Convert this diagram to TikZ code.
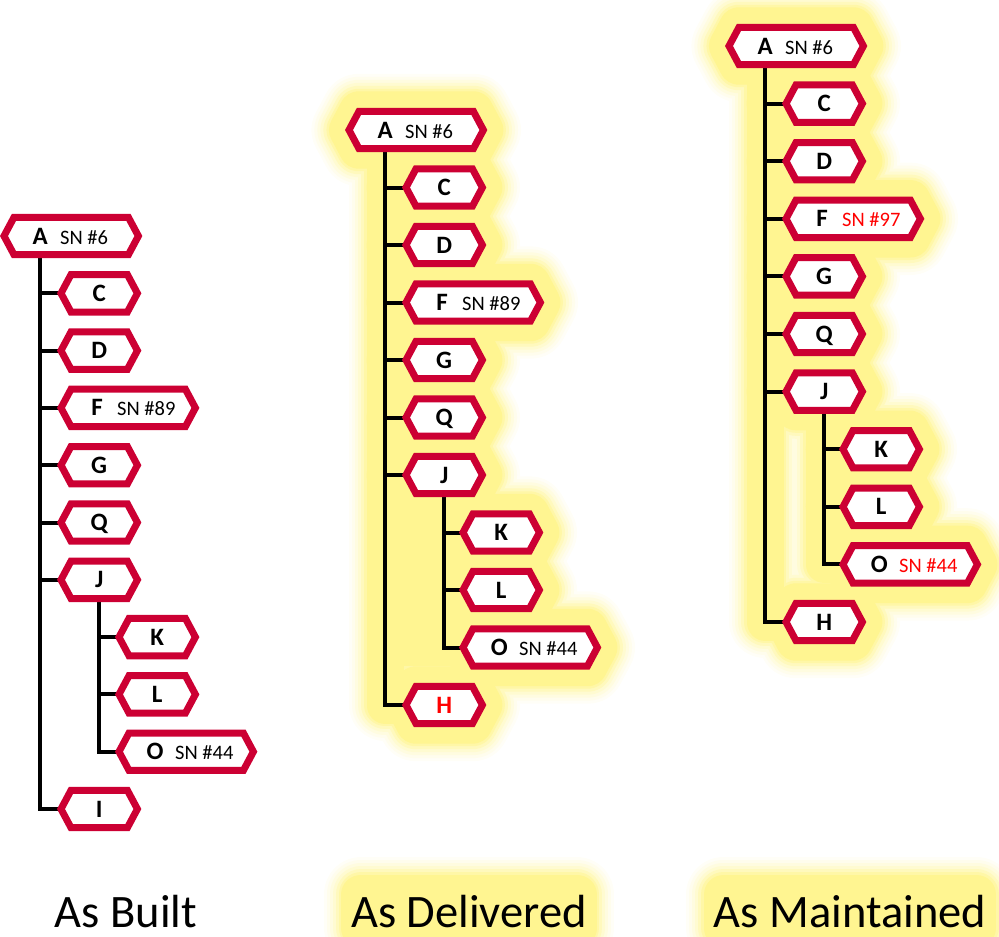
\documentclass[tikz,border=0pt]{standalone}
\usepackage{fontspec}
\setmainfont{Carlito}
\usetikzlibrary{calc}
\definecolor{hexred}{RGB}{204,0,51}
\definecolor{glowy}{RGB}{255,245,145}
\definecolor{snred}{RGB}{255,0,0}
\pgfdeclarelayer{glow}
\pgfdeclarelayer{mid}
\pgfsetlayers{glow,mid,main}
\newcommand{\hexpath}[1]{(#1.west) -- ([xshift=10pt]#1.north west) -- ([xshift=-10pt]#1.north east) -- (#1.east) -- ([xshift=-10pt]#1.south east) -- ([xshift=10pt]#1.south west) -- cycle}
\newcommand{\snb}[3][black]{\hbox to 134pt{\hbox to 72pt{\hss #2\hss}\hskip-16pt{\fontsize{20.5}{20.5}\selectfont\mdseries\color{#1}#3}\hss}}
% connectors of one tree: #1 suffix, #2 last node letter, #3 style
\newcommand{\conns}[3]{%
  \draw[#3] (t#1) |- (#2#1.west);
  \foreach \n in {c,d,f,g,q,j} \draw[#3] (t#1 |- \n#1.west) -- (\n#1.west);
  \draw[#3] (j#1.south) |- (o#1.west);
  \foreach \n in {k,l} \draw[#3] (j#1.south |- \n#1.west) -- (\n#1.west);}
% hexagons of one tree
\newcommand{\hexes}[3]{%
  \foreach \n in {a,c,d,f,g,q,j,k,l,o,#2} \path[#3] \hexpath{\n#1};}
\tikzset{
  hx/.style={anchor=west, minimum height=37pt, minimum width=76pt, inner sep=0pt,
    text height=16pt, text depth=0pt, font=\fontsize{25}{25}\selectfont\bfseries},
  conn/.style={line width=4pt, draw=black},
  hexb/.style={line width=7pt, draw=hexred, fill=white, line join=miter},
  lab/.style={anchor=base, inner sep=0pt, font=\fontsize{46.5}{50}\selectfont}
}
\begin{document}
\begin{tikzpicture}[x=1pt,y=-1pt]
\useasboundingbox (0,0) rectangle (999,937);
% ---------- tree 1: As Built
\node[hx] (a1) at (4,236) {\snb{A}{SN \#6}};
\node[hx] (c1) at (61,293.3) {C};
\node[hx] (d1) at (61,350.6) {D};
\node[hx] (f1) at (61,407.9) {\snb{F}{SN \#89}};
\node[hx] (g1) at (61,465.2) {G};
\node[hx] (q1) at (61,522.5) {Q};
\node[hx] (j1) at (61,579.8) {J};
\node[hx] (k1) at (119,637.1) {K};
\node[hx] (l1) at (119,694.4) {L};
\node[hx] (o1) at (119,751.7) {\snb{O}{SN \#44}};
\node[hx] (i1) at (61,809) {I};
\coordinate (t1) at ([xshift=36pt]a1.south west);
% ---------- tree 2: As Delivered
\node[hx] (a2) at (349,130) {\snb{A}{SN \#6}};
\node[hx] (c2) at (406,187.5) {C};
\node[hx] (d2) at (406,245) {D};
\node[hx] (f2) at (406,302.5) {\snb{F}{SN \#89}};
\node[hx] (g2) at (406,360) {G};
\node[hx] (q2) at (406,417.5) {Q};
\node[hx] (j2) at (406,475) {J};
\node[hx] (k2) at (463,532.5) {K};
\node[hx] (l2) at (463,590) {L};
\node[hx] (o2) at (463,647.5) {\snb{O}{SN \#44}};
\node[hx] (h2) at (406,705) {\color{snred}H};
\coordinate (t2) at ([xshift=36pt]a2.south west);
% ---------- tree 3: As Maintained
\node[hx] (a3) at (729,46) {\snb{A}{SN \#6}};
\node[hx] (c3) at (786,103.6) {C};
\node[hx] (d3) at (786,161.2) {D};
\node[hx] (f3) at (786,218.8) {\snb[snred]{F}{SN \#97}};
\node[hx] (g3) at (786,276.4) {G};
\node[hx] (q3) at (786,334) {Q};
\node[hx] (j3) at (786,391.6) {J};
\node[hx] (k3) at (843,449.2) {K};
\node[hx] (l3) at (843,506.8) {L};
\node[hx] (o3) at (843,564.4) {\snb[snred]{O}{SN \#44}};
\node[hx] (h3) at (786,622) {H};
\coordinate (t3) at ([xshift=36pt]a3.south west);
% ---------- labels
\node[lab] (lb1) at (126,927) {As Built};
\node[lab] (lb2) at (469,927) {As Delivered};
\node[lab] (lb3) at (850,927) {As Maintained};
% ---------- glow
\begin{pgfonlayer}{glow}
\foreach \gw/\gp in {68/7, 62/16, 56/28, 50/42, 44/60, 38/80, 33/100}{
  \pgfmathsetmacro\lwh{\gw+7}
  \pgfmathsetmacro\lwl{\gw+4}
  \tikzset{gh/.style={line width=\lwh pt, draw=glowy!\gp!white, fill=glowy!\gp!white, line join=round},
           gl/.style={line width=\lwl pt, draw=glowy!\gp!white, line join=round, line cap=round}}
  \hexes{2}{h}{gh}
  \conns{2}{h}{gl}
  \path[gl, fill=glowy!\gp!white] (t2 |- j2.south) rectangle (j2.south |- o2.west);
  \hexes{3}{h}{gh}
  \conns{3}{h}{gl}
  \path[gh] ([xshift=10pt]lb2.south west) rectangle ([xshift=-10pt]lb2.north east);
  \path[gh] ([xshift=10pt]lb3.south west) rectangle ([xshift=-10pt]lb3.north east);
}
\end{pgfonlayer}
% ---------- connectors and hexagons
\begin{pgfonlayer}{mid}
\conns{1}{i}{conn}
\conns{2}{h}{conn}
\conns{3}{h}{conn}
\hexes{1}{i}{hexb}
\hexes{2}{h}{hexb}
\hexes{3}{h}{hexb}
\end{pgfonlayer}
\end{tikzpicture}
\end{document}
